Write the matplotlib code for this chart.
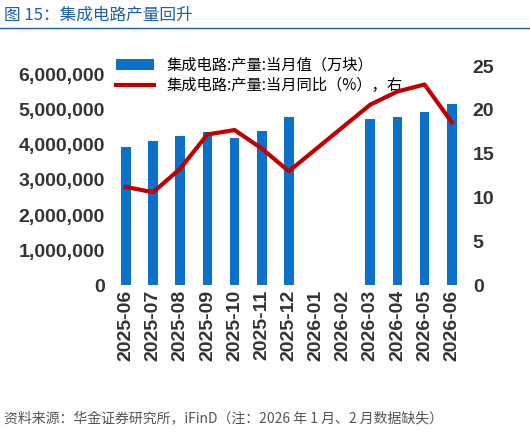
import matplotlib
matplotlib.use("Agg")
import matplotlib.pyplot as plt
import numpy as np

plt.rcParams['font.family'] = ['Noto Sans CJK SC', 'DejaVu Sans']

months = ["2025-06","2025-07","2025-08","2025-09","2025-10","2025-11","2025-12",
          "2026-01","2026-02","2026-03","2026-04","2026-05","2026-06"]
output = [3950000,4110000,4250000,4370000,4200000,4400000,4800000,
          np.nan,np.nan,4750000,4800000,4950000,5170000]
yoy = [11.2,10.6,13.3,17.2,17.7,15.6,13.0,np.nan,np.nan,20.6,22.1,22.9,18.6]

fig = plt.figure(figsize=(5.30,4.32), dpi=100)
ax = fig.add_axes([0.207,0.34,0.676,0.507])
x = np.arange(len(months))
ax.bar(x, output, width=0.36, color='#0a70c8', label='集成电路:产量:当月值（万块）')
ax.set_ylim(0,6250000)
ax.set_yticks(np.arange(0,6000001,1000000))
ax.set_yticklabels([f"{v:,}" for v in range(0,6000001,1000000)])
ax.set_xlim(-0.6,len(months)-0.4)
ax.set_xticks(x)
ax.set_xticklabels(months, rotation=90)
ax2 = ax.twinx()
m = ~np.isnan(yoy)
ax2.plot(x[m], np.array(yoy)[m], color='#c00000', lw=3, label='集成电路:产量:当月同比（%），右')
ax2.set_ylim(0,25)
ax2.set_yticks(range(0,26,5))
for a in (ax, ax2):
    a.tick_params(labelsize=14, length=0, colors='#333333')
    for s in a.spines.values():
        s.set_visible(False)
for t in ax.get_xticklabels()+ax.get_yticklabels()+ax2.get_yticklabels():
    t.set_fontweight('bold')
    t.set_family(['Liberation Sans','DejaVu Sans'])
h1,l1 = ax.get_legend_handles_labels()
h2,l2 = ax2.get_legend_handles_labels()
ax.legend(h1+h2,l1+l2, loc='upper left', bbox_to_anchor=(0.0,1.07), frameon=False,
          fontsize=11, handlelength=2.5, borderaxespad=0, labelspacing=0.2)
fig.text(0.008,0.965,'图 15：集成电路产量回升', color='#1f5fa8', fontsize=12, va='center')
fig.add_artist(plt.Line2D([0,1],[0.935,0.935], color='#1f5fa8', lw=1))
fig.text(0.008,0.03,'资料来源：华金证券研究所，iFinD（注：2026 年 1 月、2 月数据缺失）',
         color='#555555', fontsize=10, style='italic', va='center')
fig.savefig('out.png', dpi=100)
